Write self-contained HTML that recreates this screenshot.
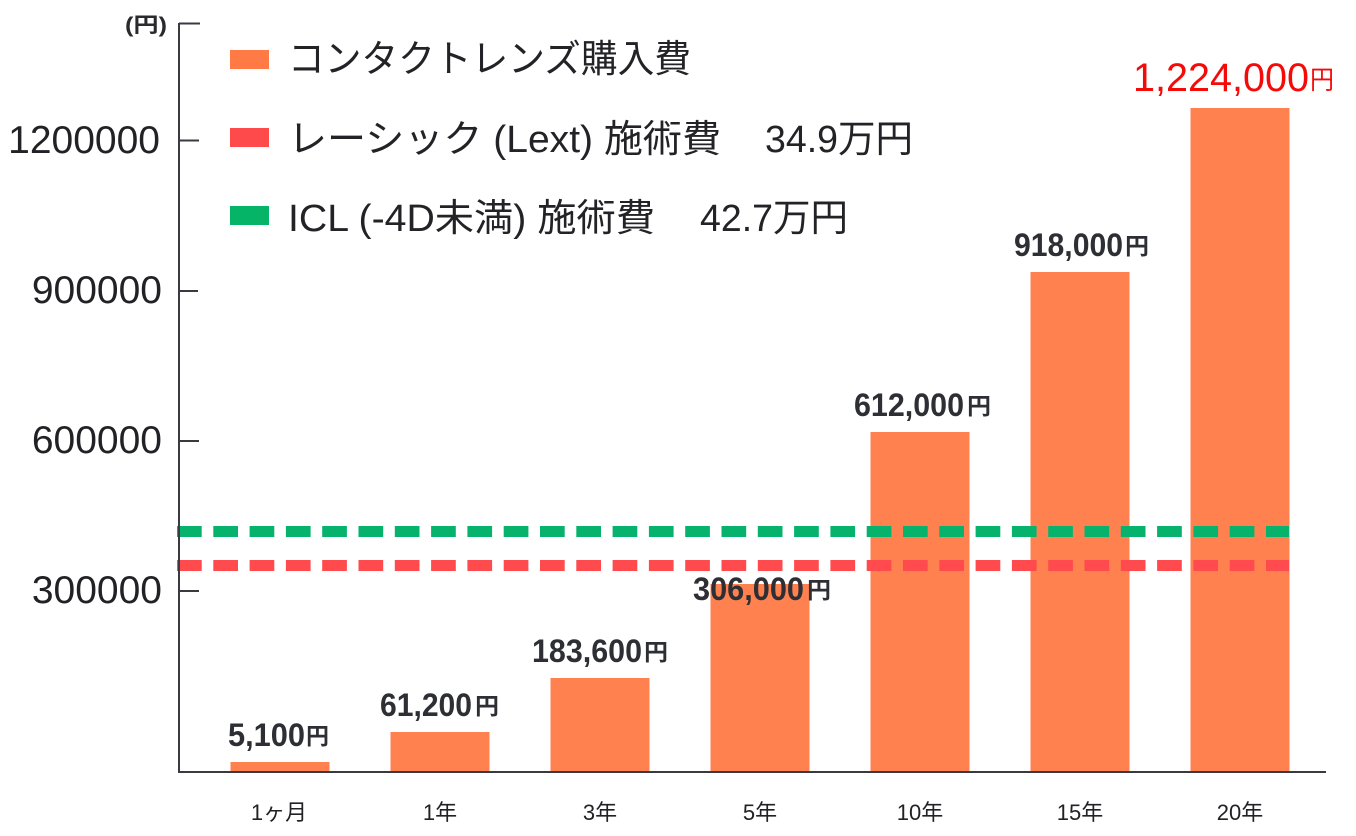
<!DOCTYPE html>
<html>
<head>
<meta charset="utf-8">
<style>
  html, body { margin: 0; padding: 0; background: #ffffff; }
  body { width: 1356px; height: 836px; overflow: hidden; }
  svg { display: block; }
  text { font-family: "Liberation Sans", "Noto Sans CJK JP", sans-serif; }
</style>
</head>
<body>
<svg width="1356" height="836" viewBox="0 0 1356 836" xmlns="http://www.w3.org/2000/svg">
  <rect x="0" y="0" width="1356" height="836" fill="#ffffff"/>

  <!-- Bars -->
  <g fill="#FF814F">
    <rect x="230.5" y="762" width="99" height="10"/>
    <rect x="390.5" y="732" width="99" height="40"/>
    <rect x="550.5" y="678" width="99" height="94"/>
    <rect x="710.5" y="584" width="99" height="188"/>
    <rect x="870.5" y="432" width="99" height="340"/>
    <rect x="1030.5" y="272" width="99" height="500"/>
    <rect x="1190.5" y="108" width="99" height="664"/>
  </g>

  <!-- Dashed reference lines -->
  <line x1="177" y1="531.5" x2="1289" y2="531.5" stroke="#07B36C" stroke-width="11" stroke-dasharray="24.7 11.6"/>
  <line x1="177" y1="565.5" x2="1289" y2="565.5" stroke="#FF4B4E" stroke-width="11" stroke-dasharray="24.7 11.6"/>

  <!-- Axes -->
  <line x1="179" y1="23" x2="179" y2="773" stroke="#3c3a40" stroke-width="2"/>
  <line x1="178" y1="772" x2="1326" y2="772" stroke="#3c3a40" stroke-width="2"/>
  <g stroke="#3c3a40" stroke-width="2">
    <line x1="179" y1="23.5" x2="200" y2="23.5"/>
    <line x1="179" y1="140.5" x2="199" y2="140.5"/>
    <line x1="179" y1="291" x2="198" y2="291"/>
    <line x1="179" y1="441" x2="199" y2="441"/>
    <line x1="179" y1="591" x2="199" y2="591"/>
  </g>

  <!-- Unit label -->
  <text x="125" y="32" font-size="21" font-weight="bold" fill="#2a2a2e" textLength="42" lengthAdjust="spacingAndGlyphs">(円)</text>

  <!-- Y tick labels -->
  <g font-size="39" fill="#222226" text-anchor="end">
    <text x="160" y="153">1200000</text>
    <text x="162" y="303">900000</text>
    <text x="162" y="453">600000</text>
    <text x="162" y="603">300000</text>
  </g>

  <!-- Legend -->
  <rect x="230" y="50" width="39" height="19" fill="#FF7A45"/>
  <rect x="230" y="128" width="39" height="19" fill="#FF4A4C"/>
  <rect x="230" y="206" width="39" height="19" fill="#05B467"/>
  <g font-size="38" fill="#232327">
    <text x="288" y="72" textLength="403" lengthAdjust="spacingAndGlyphs">コンタクトレンズ購入費</text>
    <text x="288" y="152" textLength="433" lengthAdjust="spacingAndGlyphs">レーシック (Lext) 施術費</text>
    <text x="765" y="152" textLength="148" lengthAdjust="spacingAndGlyphs">34.9万円</text>
    <text x="288" y="231" textLength="367" lengthAdjust="spacingAndGlyphs">ICL (-4D未満) 施術費</text>
    <text x="700" y="231" textLength="148" lengthAdjust="spacingAndGlyphs">42.7万円</text>
  </g>

  <!-- Bar value labels -->
  <g fill="#2d2f34" font-weight="bold">
    <text x="228" y="746" font-size="32" textLength="77" lengthAdjust="spacingAndGlyphs">5,100</text>
    <text x="306" y="744" font-size="23" textLength="23" lengthAdjust="spacingAndGlyphs">円</text>

    <text x="380" y="716" font-size="32" textLength="92" lengthAdjust="spacingAndGlyphs">61,200</text>
    <text x="475" y="714" font-size="23" textLength="24" lengthAdjust="spacingAndGlyphs">円</text>

    <text x="532" y="662" font-size="32" textLength="110" lengthAdjust="spacingAndGlyphs">183,600</text>
    <text x="644" y="660" font-size="23" textLength="24" lengthAdjust="spacingAndGlyphs">円</text>

    <text x="693" y="600" font-size="32" textLength="111" lengthAdjust="spacingAndGlyphs">306,000</text>
    <text x="807" y="598" font-size="23" textLength="24" lengthAdjust="spacingAndGlyphs">円</text>

    <text x="854" y="416" font-size="32" textLength="110" lengthAdjust="spacingAndGlyphs">612,000</text>
    <text x="967" y="414" font-size="23" textLength="24" lengthAdjust="spacingAndGlyphs">円</text>

    <text x="1014" y="256" font-size="32" textLength="109" lengthAdjust="spacingAndGlyphs">918,000</text>
    <text x="1125" y="254" font-size="23" textLength="24" lengthAdjust="spacingAndGlyphs">円</text>
  </g>
  <text x="1133" y="91" font-size="40" fill="#F50A0A" textLength="176" lengthAdjust="spacingAndGlyphs">1,224,000</text>
  <text x="1310" y="89" font-size="26" fill="#F50A0A" textLength="24" lengthAdjust="spacingAndGlyphs">円</text>

  <!-- X labels -->
  <g font-size="22" fill="#222226" text-anchor="middle">
    <text x="279" y="820">1ヶ月</text>
    <text x="440" y="820">1年</text>
    <text x="600" y="820">3年</text>
    <text x="760" y="820">5年</text>
    <text x="920" y="820">10年</text>
    <text x="1080" y="820">15年</text>
    <text x="1240" y="820">20年</text>
  </g>
</svg>
</body>
</html>
